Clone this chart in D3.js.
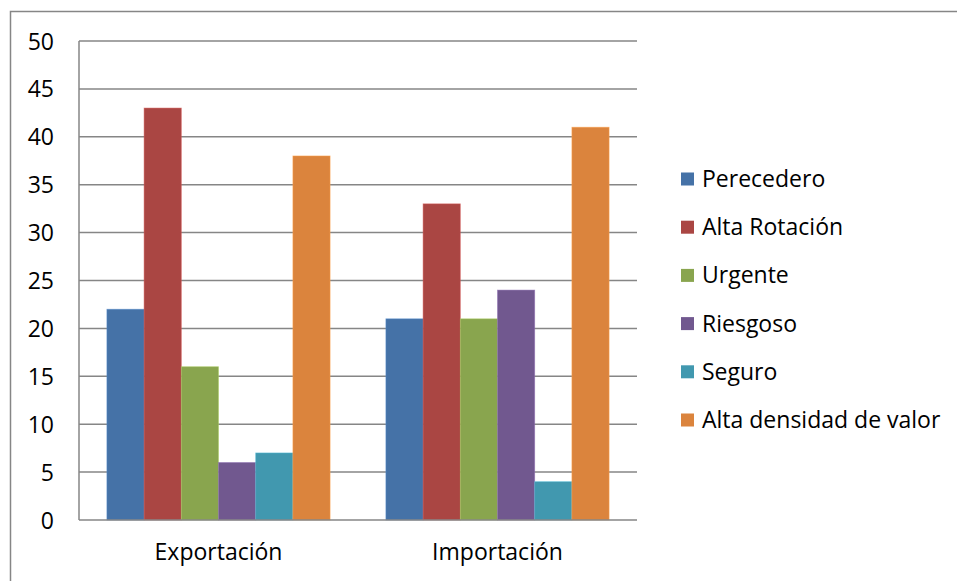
<!DOCTYPE html>
<html>
<head>
<meta charset="utf-8">
<script src="https://cdn.jsdelivr.net/npm/d3@7"></script>
<style>
  html, body { margin: 0; padding: 0; background: #fff; }
  svg { display: block; }
  text { font-family: "Open Sans", "Liberation Sans", sans-serif; fill: #000; }
</style>
</head>
<body>
<svg id="chart" width="957" height="581"></svg>
<script>
// Grouped bar chart: cargo characteristics by trade flow
const categories = ["Exportación", "Importación"];
const seriesNames = ["Perecedero", "Alta Rotación", "Urgente", "Riesgoso", "Seguro", "Alta densidad de valor"];
const perecedero = [22, 21];
const altaRotacion = [43, 33];
const urgente = [16, 21];
const riesgoso = [6, 24];
const seguro = [7, 4];
const altaDensidad = [38, 41];
const yTicks = [0, 5, 10, 15, 20, 25, 30, 35, 40, 45, 50];
const colors = ["#4572A7", "#AA4643", "#89A54E", "#71588F", "#4198AF", "#DB843D"];

const seriesValues = [perecedero, altaRotacion, urgente, riesgoso, seguro, altaDensidad];

const svg = d3.select("#chart");
const plot = { left: 79, right: 637, top: 41, bottom: 520 };
const gridColor = "#868686";
const fontSize = 23;

// outer chart frame (top and left edges visible)
svg.append("path")
  .attr("d", "M10.5,957 V11.5 H957")
  .attr("fill", "none")
  .attr("stroke", gridColor)
  .attr("stroke-width", 1.5);

const x0 = d3.scaleBand().domain(categories).range([plot.left, plot.right]);
const inner = d3.scaleBand().domain(seriesNames).range([0, x0.bandwidth()]).paddingInner(0).paddingOuter(0.75);
const y = d3.scaleLinear().domain([0, 50]).range([plot.bottom, plot.top]);

// horizontal gridlines
svg.append("g")
  .selectAll("line")
  .data(yTicks.filter(t => t > 0))
  .join("line")
  .attr("x1", plot.left).attr("x2", plot.right)
  .attr("y1", d => y(d)).attr("y2", d => y(d))
  .attr("stroke", gridColor).attr("stroke-width", 1.5);

// bars
const groups = svg.append("g")
  .selectAll("g")
  .data(categories)
  .join("g")
  .attr("transform", d => `translate(${x0(d)},0)`);

groups.selectAll("rect")
  .data((c, ci) => seriesNames.map((s, si) => ({ s, si, v: seriesValues[si][ci] })))
  .join("rect")
  .attr("x", d => inner(d.s))
  .attr("width", inner.bandwidth())
  .attr("y", d => y(d.v))
  .attr("height", d => y(0) - y(d.v))
  .attr("fill", d => colors[d.si])
  .attr("stroke", d => d3.color(colors[d.si]).brighter(0.6))
  .attr("stroke-opacity", 0.6)
  .attr("stroke-width", 0.8);

// axis lines
svg.append("line")
  .attr("x1", plot.left).attr("x2", plot.left)
  .attr("y1", plot.top).attr("y2", plot.bottom)
  .attr("stroke", gridColor).attr("stroke-width", 1.5);
svg.append("line")
  .attr("x1", plot.left).attr("x2", plot.right)
  .attr("y1", plot.bottom).attr("y2", plot.bottom)
  .attr("stroke", gridColor).attr("stroke-width", 1.5);

// y tick labels
const yAxis = d3.axisLeft(y).tickValues(yTicks).tickSize(0).tickPadding(0);
const yg = svg.append("g").attr("transform", `translate(54,0)`).call(yAxis);
yg.select(".domain").remove();
yg.attr("font-size", fontSize).attr("font-family", null);
yg.selectAll("text")
  .attr("fill", "#000")
  .attr("dy", "0.35em");

// x category labels
const xAxis = d3.axisBottom(x0).tickSize(0).tickPadding(0);
const xg = svg.append("g").attr("transform", `translate(0,0)`).call(xAxis);
xg.select(".domain").remove();
xg.attr("font-size", fontSize).attr("font-family", null);
xg.selectAll("text")
  .attr("fill", "#000")
  .attr("y", 560)
  .attr("dy", null);

// legend
const legend = svg.append("g").attr("transform", "translate(681,179)");
const items = legend.selectAll("g")
  .data(seriesNames)
  .join("g")
  .attr("transform", (d, i) => `translate(0,${i * 48.2})`);
items.append("rect")
  .attr("x", 0).attr("y", -6.5)
  .attr("width", 13).attr("height", 13)
  .attr("fill", (d, i) => colors[i]);
items.append("text")
  .attr("x", 21).attr("y", 0)
  .attr("dy", "0.35em")
  .attr("font-size", fontSize)
  .text(d => d);
</script>
</body>
</html>
